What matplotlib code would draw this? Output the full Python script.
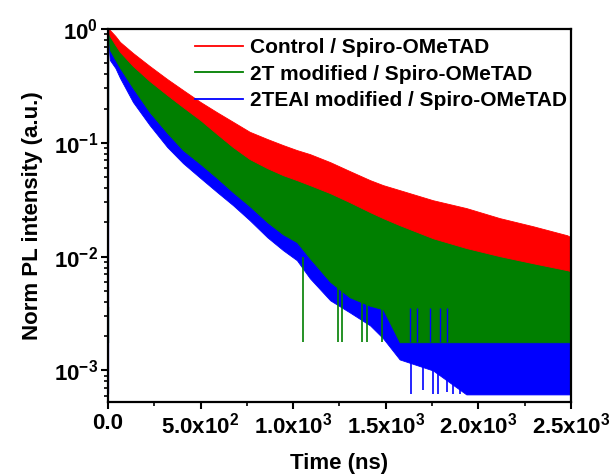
import matplotlib
matplotlib.use("Agg")
import matplotlib.pyplot as plt
from matplotlib.ticker import FixedLocator, LogLocator, NullFormatter

plt.rcParams['font.family'] = ['Liberation Sans', 'DejaVu Sans']
plt.rcParams['font.weight'] = 'bold'
plt.rcParams['mathtext.fontset'] = 'custom'
plt.rcParams['mathtext.rm'] = 'Liberation Sans:bold'
plt.rcParams['mathtext.it'] = 'Liberation Sans:bold'
plt.rcParams['mathtext.bf'] = 'Liberation Sans:bold'
plt.rcParams['mathtext.default'] = 'regular'

# decay traces, given as the upper and lower edge of the noise band (ns, normalised counts)
time_ns = [4, 10, 40, 65, 135, 225, 320, 405, 500, 590, 675, 765, 860, 945, 1020,
           1090, 1200, 1305, 1415, 1485, 1575, 1755, 1935, 2115, 2295, 2480, 2500]

control_hi = [1.0, 0.98, 0.868, 0.769, 0.615, 0.473, 0.363, 0.291, 0.228, 0.185, 0.153,
              0.125, 0.108, 0.0955, 0.0863, 0.0796, 0.0676, 0.0565, 0.0470, 0.0425,
              0.0384, 0.0313, 0.0267, 0.0218, 0.0185, 0.0154, 0.0148]
control_lo = [0.922, 0.868, 0.723, 0.628, 0.473, 0.349, 0.263, 0.206, 0.158, 0.119, 0.0917,
              0.0720, 0.0599, 0.0520, 0.0470, 0.0425, 0.0361, 0.0301, 0.0246, 0.0218,
              0.0189, 0.0145, 0.0119, 0.0101, 0.00875, 0.00760, 0.00744]

t2_hi = [1.0, 0.922, 0.800, 0.694, 0.534, 0.394, 0.297, 0.233, 0.179, 0.135, 0.103,
         0.0796, 0.0676, 0.0587, 0.0531, 0.0479, 0.0408, 0.0340, 0.0278, 0.0246,
         0.0213, 0.0164, 0.0134, 0.0114, 0.00988, 0.00857, 0.00840]
t2_lo = [0.80, 0.654, 0.534, 0.454, 0.303, 0.186, 0.122, 0.0863, 0.0650, 0.0489, 0.0368,
         0.0278, 0.0201, 0.0157, 0.0134, 0.00968, 0.00600, 0.00440, 0.00370, 0.00345,
         0.00177, 0.00177, 0.00177, 0.00177, 0.00177, 0.00177, 0.00177]

teai_hi = [0.90, 0.723, 0.628, 0.534, 0.356, 0.219, 0.143, 0.101, 0.0764, 0.0575, 0.0433,
           0.0326, 0.0236, 0.0185, 0.0157, 0.0114, 0.00729, 0.00538, 0.00448, 0.00413,
           0.00225, 0.00204, 0.00192, 0.00192, 0.00192, 0.00192, 0.00192]
teai_lo = [0.70, 0.534, 0.454, 0.371, 0.228, 0.143, 0.0917, 0.0663, 0.0489, 0.0368, 0.0283,
           0.0209, 0.0148, 0.0114, 0.00930, 0.00646, 0.00413, 0.00324, 0.00249, 0.00192,
           0.00125, 0.00100, 0.000616, 0.000616, 0.000616, 0.000616, 0.000616]

# pre-pulse counts piled up at t = 0 (low, high)
rise_time = 2
teai_rise = [(0.000616, 1.0)]
t2_rise = [(0.00175, 0.0036), (0.0197, 0.0313), (0.1, 1.0)]

# single channels that drop out of / poke above the band (ns, low, high)
t2_dips = [(1053, 0.00177, 0.0100), (1242, 0.00177, 0.0060), (1264, 0.00177, 0.0060),
           (1372, 0.00177, 0.0045), (1399, 0.00177, 0.0042), (1480, 0.00177, 0.0040)]
teai_dips = [(1636, 0.000616, 0.00177), (1701, 0.000680, 0.00177), (1755, 0.000616, 0.00177),
             (1782, 0.000616, 0.00177), (1831, 0.000650, 0.00177), (1863, 0.000616, 0.00177),
             (1901, 0.000616, 0.00177)]
teai_peaks = [(1631, 0.00177, 0.00352), (1669, 0.00177, 0.00352), (1739, 0.00177, 0.00352),
              (1793, 0.00177, 0.00352), (1831, 0.00177, 0.00352)]

labels = ['Control / Spiro-OMeTAD', '2T modified / Spiro-OMeTAD', '2TEAI modified / Spiro-OMeTAD']
colors = ['#ff0000', '#007f00', '#0000ff']

x_ticks = [0, 500, 1000, 1500, 2000, 2500]
x_ticklabels = ['0.0', r'5.0x10$^{2}$', r'1.0x10$^{3}$', r'1.5x10$^{3}$', r'2.0x10$^{3}$', r'2.5x10$^{3}$']
y_ticks = [1e-3, 1e-2, 1e-1, 1e0]
y_ticklabels = [r'10$^{-3}$', r'10$^{-2}$', r'10$^{-1}$', r'10$^{0}$']

fig = plt.figure(figsize=(6.1, 4.75), dpi=100)
ax = fig.add_axes([0.177, 0.154, 0.759, 0.785])

# blue underneath, red on top
bands = [(teai_hi, teai_lo, 2), (t2_hi, t2_lo, 1), (control_hi, control_lo, 0)]
for hi, lo, i in bands:
    ax.fill_between(time_ns, lo, hi, color=colors[i], linewidth=0.6, zorder=2 + (2 - i))

for lo, hi in teai_rise:
    ax.vlines(rise_time, lo, hi, color=colors[2], lw=1.6, zorder=5)
for lo, hi in t2_rise:
    ax.vlines(rise_time, lo, hi, color=colors[1], lw=1.6, zorder=5)

for t, lo, hi in t2_dips:
    ax.vlines(t, lo, hi, color=colors[1], lw=1.2, zorder=3)
for t, lo, hi in teai_dips:
    ax.vlines(t, lo, hi, color=colors[2], lw=1.2, zorder=2)
for t, lo, hi in teai_peaks:
    ax.vlines(t, lo, hi, color=colors[2], lw=1.0, zorder=3.5)

for i in range(3):
    ax.plot([], [], color=colors[i], lw=1.3, label=labels[i])

ax.set_yscale('log')
ax.set_xlim(0, 2500)
ax.set_ylim(5.3e-4, 1)

ax.xaxis.set_major_locator(FixedLocator(x_ticks))
ax.set_xticklabels(x_ticklabels)
ax.xaxis.set_minor_locator(FixedLocator([250, 750, 1250, 1750, 2250]))
ax.yaxis.set_major_locator(FixedLocator(y_ticks))
ax.set_yticklabels(y_ticklabels)
ax.yaxis.set_minor_locator(LogLocator(base=10, subs=range(2, 10), numticks=20))
ax.yaxis.set_minor_formatter(NullFormatter())

ax.tick_params(which='major', direction='out', length=5, width=1.5, labelsize=16, pad=3)
ax.tick_params(axis='y', which='major', pad=2)
ax.tick_params(which='minor', direction='out', length=3, width=1.2)
for s in ax.spines.values():
    s.set_linewidth(1.6)
    s.set_zorder(10)

ax.set_xlabel('Time (ns)', fontsize=16, fontweight='bold', labelpad=10)
ax.set_ylabel('Norm PL intensity (a.u.)', fontsize=16, fontweight='bold', labelpad=8)

ax.legend(loc='upper left', bbox_to_anchor=(0.188, 0.975), frameon=False, fontsize=15,
          handlelength=2.3, handletextpad=0.35, labelspacing=0.35, borderpad=0,
          borderaxespad=0)

fig.savefig('out.png', dpi=100)
